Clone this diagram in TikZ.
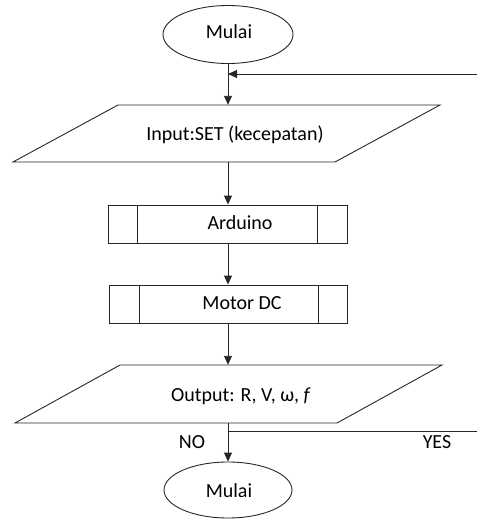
\documentclass[tikz,border=0pt]{standalone}
\usepackage{fontspec}
\setmainfont{Carlito}
\usetikzlibrary{arrows.meta,shapes.geometric}
\begin{document}
\begin{tikzpicture}[x=1pt,y=-1pt,
  every node/.style={font=\fontsize{20}{24}\selectfont, inner sep=0pt},
  ln/.style={line width=0.9pt, draw=black!85},
  arr/.style={ln, -{Triangle[length=9pt,width=8pt]}},
  term/.style={ellipse, ln, draw, minimum width=130pt, minimum height=58pt},
  boxarea/.style={rectangle, minimum width=239pt, minimum height=38pt},
  paraarea/.style={rectangle, minimum width=10pt, minimum height=57pt}]
\useasboundingbox (0,0) rectangle (477,519);
% terminals
\node[term] (start) at (228,34.5) {};
\node (startt) at (229,32) {Mulai};
\node[term, minimum width=128pt, minimum height=56pt] (stop) at (228,490) {};
\node (stopt) at (229,491) {Mulai};
% input parallelogram
\node[paraarea] (in) at (228,133.5) {};
\draw[ln] (118,105) -- (440,105) -- (335,162) -- (13,162) -- cycle;
\node (int) at (235,135) {Input:SET (kecepatan)};
% Arduino
\node[boxarea, ln, draw] (ard) at (228,224) {};
\draw[ln] (137,205) -- (137,243) (317,205) -- (317,243);
\node (ardt) at (240,223) {Arduino};
% Motor DC
\node[boxarea, ln, draw, minimum width=238pt] (mot) at (228,304) {};
\draw[ln] (139,285) -- (139,323) (318,285) -- (318,323);
\node (mott) at (242,303) {Motor DC};
% output parallelogram
\node[paraarea, minimum height=58pt] (out) at (228,394) {};
\draw[ln] (120,365) -- (442,365) -- (337,423) -- (15,423) -- cycle;
\node (outt) at (241,396) {Output: R, V, ω, \textit{f}};
% connectors
\draw[arr] (start.south) -- (in.north);
\draw[arr] (in.south) -- (ard.north);
\draw[arr] (ard.south) -- (mot.north);
\draw[arr] (mot.south) -- (out.north);
\draw[arr] (out.south) -- (stop.north);
\coordinate (fb) at (477,74);
\draw[arr] (fb) -- (fb -| start.south);
\coordinate (yes) at (477,431);
\draw[ln] (yes -| out.south) -- (yes);
\node (no) at (192,442) {NO};
\node (yest) at (437,442) {YES};
\end{tikzpicture}
\end{document}
